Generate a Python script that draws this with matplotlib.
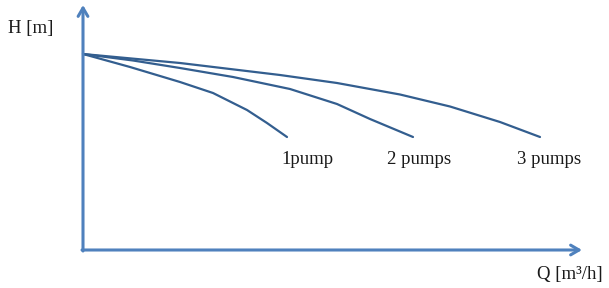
import matplotlib
matplotlib.use("Agg")
import matplotlib.pyplot as plt

# curve readings: Q and H in arbitrary units (origin at the axis corner)
q_1pump = [0, 47, 97, 130, 164, 184, 204]
h_1pump = [196, 183, 168, 157, 140, 127, 113]

q_2pump = [0, 50, 97, 150, 207, 254, 287, 330]
h_2pump = [196, 189.5, 182, 173, 161, 146, 131, 113]

q_3pump = [0, 97, 197, 254, 317, 367, 417, 457]
h_3pump = [196, 187, 175, 167, 155.5, 143.5, 128, 113]

curve_labels = ["1pump", "2 pumps", "3 pumps"]
label_q = [224, 336, 466]
label_h = [90, 90, 90]

axis_color = "#4f81bd"
curve_color = "#335e8f"

fig = plt.figure(figsize=(6.09, 2.88), dpi=100)
ax = fig.add_axes([0, 0, 1, 1])
ax.set_xlim(-83, 526)
ax.set_ylim(-38, 250)
ax.axis("off")

# axes with arrow heads
arrow = dict(arrowstyle="->,head_length=0.6,head_width=0.35",
             color=axis_color, lw=2.2, shrinkA=0, shrinkB=0)
ax.annotate("", xy=(0, 245), xytext=(0, -1), arrowprops=arrow)
ax.annotate("", xy=(499, 0), xytext=(-1, 0), arrowprops=arrow)

for q, h in [(q_1pump, h_1pump), (q_2pump, h_2pump), (q_3pump, h_3pump)]:
    ax.plot(q, h, color=curve_color, lw=1.6, solid_capstyle="round",
            solid_joinstyle="round")

font = dict(family=["Liberation Serif", "DejaVu Serif"], fontsize=13.5, color="#1a1a1a")
for lab, x, y in zip(curve_labels, label_q, label_h):
    ax.text(x, y, lab, ha="center", va="center", **font)

ax.text(-52, 221, "H [m]", ha="center", va="center", **font)
ax.text(487, -25, "Q [m³/h]", ha="center", va="center", **font)

fig.savefig("out.png", dpi=100)
